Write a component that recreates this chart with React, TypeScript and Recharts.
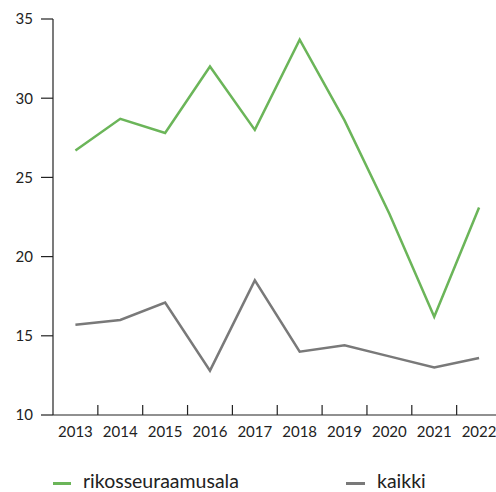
import React from 'react';
import { LineChart, Line, XAxis, YAxis } from 'recharts';

const years = [2013, 2014, 2015, 2016, 2017, 2018, 2019, 2020, 2021, 2022];
const rikosseuraamusala = [26.7, 28.7, 27.8, 32.0, 28.0, 33.7, 28.6, 22.7, 16.2, 23.1];
const kaikki = [15.7, 16.0, 17.1, 12.8, 18.5, 14.0, 14.4, 13.7, 13.0, 13.6];
const yTicks = [10, 15, 20, 25, 30, 35];

const GREEN = '#6bb559';
const GRAY = '#797979';
const FONT = 'Lato, sans-serif';

const data = years.map((year, i) => ({
  year,
  rikosseuraamusala: rikosseuraamusala[i],
  kaikki: kaikki[i],
}));

// year label centred in its band, plus a small tick at the band's left edge
function YearTick(props: any) {
  const { x, y, payload, index } = props;
  const half = 448.5 / years.length / 2;
  return (
    <g>
      {index > 0 && <line x1={x - half} x2={x - half} y1={y - 10} y2={y} stroke="#222" strokeWidth={1.2} />}
      <text x={x} y={y + 22} textAnchor="middle" fill="#222" fontSize={15} fontFamily={FONT}>
        {payload.value}
      </text>
    </g>
  );
}

const legendItem: React.CSSProperties = {
  position: 'absolute',
  top: 471,
  display: 'flex',
  alignItems: 'center',
  fontFamily: FONT,
  fontSize: 19.5,
  lineHeight: '20px',
  color: '#222',
};

export default function App() {
  return (
    <div style={{ position: 'absolute', left: 0, top: 0, width: 496, height: 492, overflow: 'hidden', background: '#fff' }}>
      <LineChart width={510} height={492} data={data} margin={{ top: 19, right: 8.5, left: 0, bottom: 47 }}>
        <XAxis
          dataKey="year"
          type="number"
          domain={[2012.5, 2022.5]}
          ticks={years}
          interval={0}
          tickLine={false}
          tickSize={0}
          tickMargin={0}
          height={30}
          axisLine={{ stroke: '#222', strokeWidth: 1.2 }}
          tick={<YearTick />}
        />
        <YAxis
          domain={[10, 35]}
          ticks={yTicks}
          width={53}
          tickSize={12}
          tickMargin={8}
          axisLine={{ stroke: '#222', strokeWidth: 1.2 }}
          tickLine={{ stroke: '#222', strokeWidth: 1.2 }}
          tick={{ fill: '#222', fontSize: 15, fontFamily: FONT }}
        />
        <Line dataKey="rikosseuraamusala" stroke={GREEN} strokeWidth={2.5} dot={false} isAnimationActive={false} />
        <Line dataKey="kaikki" stroke={GRAY} strokeWidth={2.5} dot={false} isAnimationActive={false} />
      </LineChart>

      {/* Legend */}
      <div style={{ ...legendItem, left: 53 }}>
        <div style={{ width: 18, height: 3, background: GREEN, marginRight: 12, marginTop: 4 }}></div>
        <span>rikosseuraamusala</span>
      </div>
      <div style={{ ...legendItem, left: 346 }}>
        <div style={{ width: 19, height: 3, background: GRAY, marginRight: 12, marginTop: 4 }}></div>
        <span>kaikki</span>
      </div>
    </div>
  );
}
